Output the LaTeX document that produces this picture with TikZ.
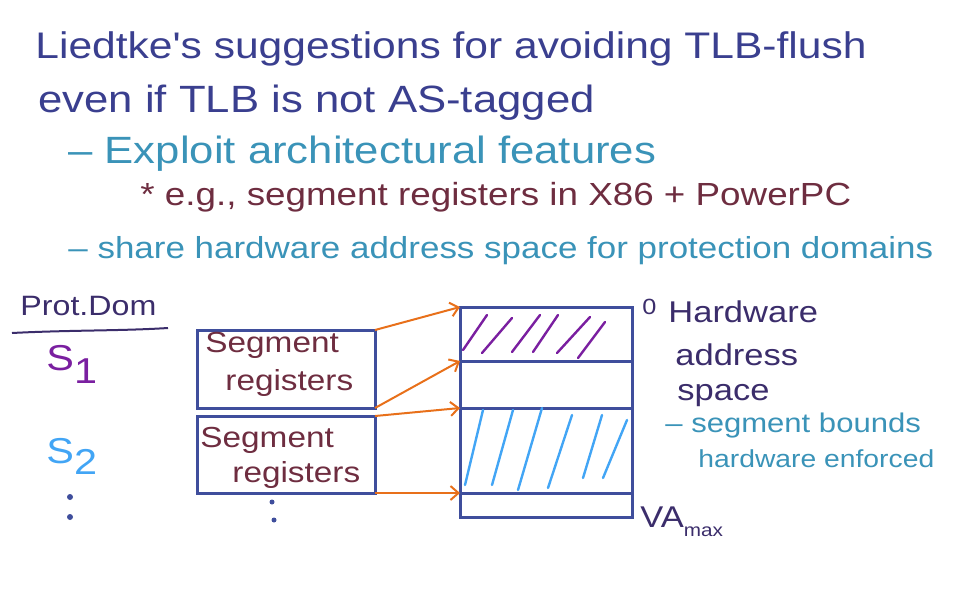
\documentclass[tikz,border=0pt]{standalone}
\usepackage{fontspec}
\setsansfont{Liberation Sans}
\newfontfamily\handfont[FakeStretch=1.15]{Liberation Sans}
\usepackage{xcolor}
\usetikzlibrary{arrows.meta,positioning}
\definecolor{inkblue}{HTML}{3A3F8F}
\definecolor{inkteal}{HTML}{3A93B8}
\definecolor{inkmaroon}{HTML}{6E2D40}
\definecolor{inkpurple}{HTML}{3B2D6B}
\definecolor{boxblue}{HTML}{3F4E9C}
\definecolor{arrorange}{HTML}{E8701A}
\definecolor{hatchpurple}{HTML}{7A1FA0}
\definecolor{hatchblue}{HTML}{42A5F5}
\newcommand{\handsize}[1]{\handfont\fontsize{#1}{#1}\selectfont}

\begin{document}
\begin{tikzpicture}[x=0.5pt,y=-0.5pt,
  txt/.style={anchor=base west,inner sep=0pt,font=\handsize{15}},
  segbox/.style={draw=boxblue,line width=1.5pt,minimum width=89pt,outer sep=0pt,inner sep=0pt},
  region/.style={draw=boxblue,line width=1.5pt,minimum width=86pt,outer sep=0pt,inner sep=0pt},
  arr/.style={arrorange,line width=1pt,-{Straight Barb[length=4pt,width=7pt]}},
  hatch/.style={line width=1.2pt,line cap=round}]
\useasboundingbox (0,0) rectangle (972,600);
% heading
\node[txt,inkblue,font=\handsize{18.5}] (t1) at (35,58) {Liedtke's suggestions for avoiding TLB-flush};
\node[txt,inkblue,font=\handsize{19}] (t2) at (38,112) {even if TLB is not AS-tagged};
\node[txt,inkteal,font=\handsize{19}] (t3) at (68,163) {– Exploit architectural features};
\node[txt,inkmaroon,font=\handsize{16}] (t4) at (140,205) {* e.g., segment registers in X86 + PowerPC};
\node[txt,inkteal,font=\handsize{15.2}] (t5) at (68,258) {– share hardware address space for protection domains};
% protection domains
\node[txt,inkpurple,font=\handsize{14}] (pd) at (20,315) {Prot.Dom};
\draw[inkpurple,line width=1pt] (12,333) .. controls (70,330) and (120,331) .. (168,328);
\node[txt,hatchpurple,font=\handsize{18}] (s1) at (46,370) {S\raisebox{-0.7ex}{1}};
\node[txt,hatchblue,font=\handsize{18}] (s2) at (46,463) {S\raisebox{-0.6ex}{2}};
\fill[boxblue] (70,497) circle (3) (70,517) circle (3);
% segment registers
\node[segbox,minimum height=39pt] (seg1) at (286,369) {};
\node[segbox,minimum height=38.5pt] (seg2) at (286,454.5) {};
\node[txt,inkmaroon,font=\handsize{14.5}] (g1a) at (205,352) {Segment};
\node[txt,inkmaroon,font=\handsize{14.5}] (g1b) at (225,390) {registers};
\node[txt,inkmaroon,font=\handsize{14.5}] (g2a) at (200,447) {Segment};
\node[txt,inkmaroon,font=\handsize{14.5}] (g2b) at (232,482) {registers};
\fill[boxblue] (272,502) circle (2.5) (274,520) circle (2.5);
% hardware address space
\node[region,minimum height=27pt] (r1) at (546,334) {};
\node[region,minimum height=23.5pt,below=0pt of r1] (r2) {};
\node[region,minimum height=42.5pt,below=0pt of r2] (r3) {};
\node[region,minimum height=12pt,below=0pt of r3] (r4) {};
\draw[hatch,hatchpurple] (463,350) -- (487,315) (482,353) -- (512,318) (512,352) -- (540,315)
  (533,352) -- (558,315) (557,353) -- (590,317) (578,358) -- (605,322);
\draw[hatch,hatchblue] (465,485) -- (483,410) (492,485) -- (513,410) (518,490) -- (542,408)
  (548,488) -- (572,415) (583,478) -- (602,415) (603,478) -- (627,420);
\draw[arr] (seg1.north east) -- (r1.north west);
\draw[arr] (seg1.south east) -- (r2.north west);
\draw[arr] (seg2.north east) -- (r3.north west);
\draw[arr] (seg2.south east) -- (r3.south west);
% labels on the right
\node[txt,inkpurple,font=\handsize{11}] (zero) at (642,314) {0};
\node[txt,inkpurple] (hw1) at (668,322) {Hardware};
\node[txt,inkpurple] (hw2) at (675,365) {address};
\node[txt,inkpurple] (hw3) at (677,400) {space};
\node[txt,inkteal,font=\handsize{13.5}] (sb1) at (665,432) {– segment bounds};
\node[txt,inkteal,font=\handsize{12.3}] (sb2) at (698,467) {hardware enforced};
\node[txt,inkpurple,font=\handsize{15}] (va) at (640,527) {VA\raisebox{-0.6ex}{\small max}};
\end{tikzpicture}
\end{document}
